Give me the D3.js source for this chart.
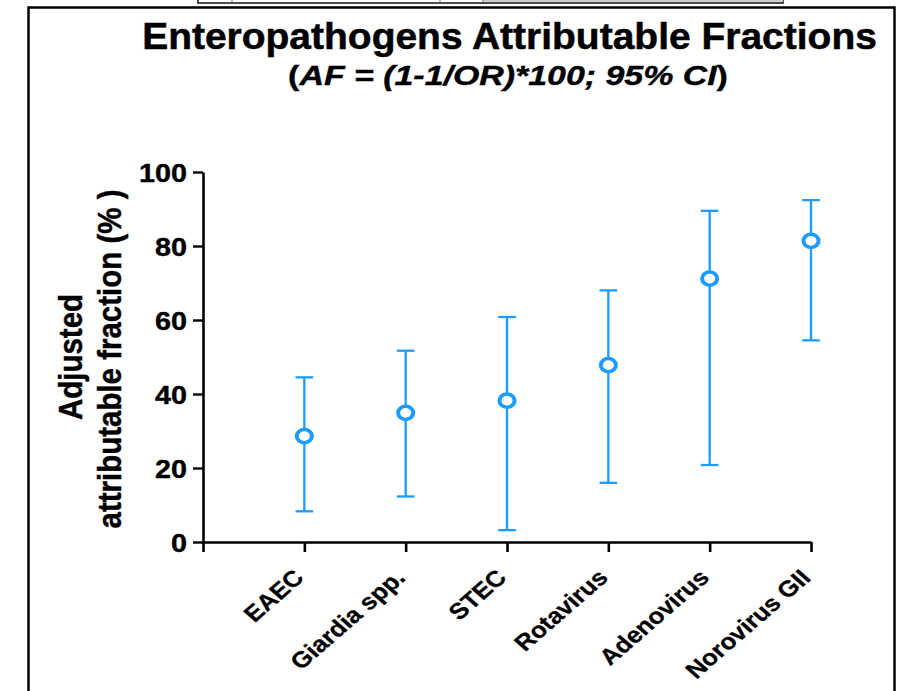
<!DOCTYPE html>
<html>
<head>
<meta charset="utf-8">
<script src="https://cdn.jsdelivr.net/npm/d3@7"></script>
<style>
  html, body { margin: 0; padding: 0; background: #fff; }
  svg { display: block; font-family: "Liberation Sans", Arial, sans-serif; font-weight: bold; }
</style>
</head>
<body>
<script>
// Pathogens and their adjusted attributable fractions (%) with 95% CI
const categories = ["EAEC", "Giardia spp.", "STEC", "Rotavirus", "Adenovirus", "Norovirus GII"];
const afValues   = [28.6, 34.9, 38.2, 47.8, 71.2, 81.4];
const ciLower    = [8.3, 12.3, 3.2, 16.0, 20.8, 54.5];
const ciUpper    = [44.5, 51.7, 60.8, 68.0, 89.5, 92.4];
const yTicks     = [0, 20, 40, 60, 80, 100];

const W = 897, H = 691;
const SX = 1.15;            // horizontal stretch of glyphs and markers
const blue = "#1e9bff";

const svg = d3.select("body").append("svg")
  .attr("width", W).attr("height", H);

// strip of the window above the frame
const strip = svg.append("g");
strip.append("rect").attr("x", 198).attr("y", -8).attr("width", 585).attr("height", 11)
  .attr("fill", "#fff").attr("stroke", "#111").attr("stroke-width", 1.5);
strip.append("rect").attr("x", 483).attr("y", -8).attr("width", 300).attr("height", 10)
  .attr("fill", "#cfcfcf");
[232, 440, 483].forEach(d => strip.append("line")
  .attr("x1", d).attr("x2", d).attr("y1", -8).attr("y2", 2)
  .attr("stroke", "#777").attr("stroke-width", 1));

// outer frame
svg.append("rect").attr("x", 28.5).attr("y", 7.5).attr("width", 866).attr("height", 720)
  .attr("fill", "none").attr("stroke", "#000").attr("stroke-width", 2.5);

// scales: category i sits at position i+1, position 0 is the origin
const x = d3.scaleLinear().domain([0, categories.length]).range([203, 811]);
const y = d3.scaleLinear().domain([0, 100]).range([542, 172]);

// helper: stretch a centred text to a given width
function fitText(sel, cx, cy, width) {
  const w = sel.node().getComputedTextLength();
  sel.attr("transform", `translate(${cx},${cy}) scale(${width / w},1)`);
}

// title
const title = svg.append("text").attr("text-anchor", "middle")
  .attr("font-size", 36.5).attr("fill", "#000")
  .attr("stroke", "#000").attr("stroke-width", 0.5)
  .text("Enteropathogens Attributable Fractions");
fitText(title, 509.5, 48.5, 735);

const sub = svg.append("text").attr("text-anchor", "middle")
  .attr("font-size", 28).attr("fill", "#000")
  .attr("stroke", "#000").attr("stroke-width", 0.4);
sub.append("tspan").text("(");
sub.append("tspan").attr("font-style", "italic").text("AF = (1-1/OR)*100; 95% CI");
sub.append("tspan").text(")");
fitText(sub, 508, 85, 440);

// y axis
const yAxis = svg.append("g").attr("transform", "translate(203,0)")
  .call(d3.axisLeft(y).tickValues(yTicks).tickSize(10).tickSizeOuter(0).tickFormat(d3.format("d")));
yAxis.select(".domain").attr("stroke", "#000").attr("stroke-width", 2.6);
yAxis.selectAll(".tick line").attr("stroke", "#000").attr("stroke-width", 2.4);
yAxis.selectAll(".tick text")
  .attr("x", 0).attr("dy", "0.36em")
  .attr("transform", `translate(-16,0) scale(${SX},1)`)
  .attr("font-size", 25).attr("font-family", "Liberation Sans, Arial, sans-serif")
  .attr("font-weight", "bold").attr("fill", "#000")
  .attr("stroke", "#000").attr("stroke-width", 0.4);

// x axis
const xAxis = svg.append("g").attr("transform", "translate(0,542)")
  .call(d3.axisBottom(x).tickValues(d3.range(categories.length + 1)).tickSize(10)
    .tickSizeOuter(0).tickFormat(""));
xAxis.select(".domain").attr("stroke", "#000").attr("stroke-width", 2.6);
xAxis.selectAll(".tick line").attr("stroke", "#000").attr("stroke-width", 2.6);

// category labels
svg.append("g").selectAll("text").data(categories).join("text")
  .attr("transform", (d, i) => `translate(${x(i + 1) + 1},579) scale(${SX},1) rotate(-45)`)
  .attr("text-anchor", "end")
  .attr("font-size", 22.5).attr("fill", "#000")
  .attr("stroke", "#000").attr("stroke-width", 0.3)
  .text(d => d);

// y axis title
const yTitle = svg.append("g").attr("fill", "#000").attr("stroke", "#000").attr("stroke-width", 0.4);
yTitle.append("text")
  .attr("transform", `translate(82,357) scale(${SX},1) rotate(-90)`)
  .attr("text-anchor", "middle").attr("font-size", 29.5)
  .text("Adjusted");
yTitle.append("text")
  .attr("transform", `translate(121,359) scale(${SX},1) rotate(-90)`)
  .attr("text-anchor", "middle").attr("font-size", 29.5)
  .text("attributable fraction (% )");

// error bars
const rows = categories.map((c, i) => ({ c, i, af: afValues[i], lo: ciLower[i], hi: ciUpper[i] }));
const bars = svg.append("g").attr("stroke", blue).attr("stroke-width", 2.3).attr("fill", "none");
bars.selectAll(".stem").data(rows).join("line").attr("class", "stem")
  .attr("x1", d => x(d.i + 1)).attr("x2", d => x(d.i + 1))
  .attr("y1", d => y(d.lo)).attr("y2", d => y(d.hi));
bars.selectAll(".capHi").data(rows).join("line").attr("class", "capHi")
  .attr("x1", d => x(d.i + 1) - 8.8).attr("x2", d => x(d.i + 1) + 8.8)
  .attr("y1", d => y(d.hi)).attr("y2", d => y(d.hi));
bars.selectAll(".capLo").data(rows).join("line").attr("class", "capLo")
  .attr("x1", d => x(d.i + 1) - 8.8).attr("x2", d => x(d.i + 1) + 8.8)
  .attr("y1", d => y(d.lo)).attr("y2", d => y(d.lo));

// point estimates: open circles
svg.append("g").selectAll("circle").data(rows).join("circle")
  .attr("transform", d => `translate(${x(d.i + 1)},${y(d.af)}) scale(${SX},1)`)
  .attr("r", 6.6)
  .attr("fill", "#fff").attr("stroke", blue).attr("stroke-width", 3.5);
</script>
</body>
</html>
